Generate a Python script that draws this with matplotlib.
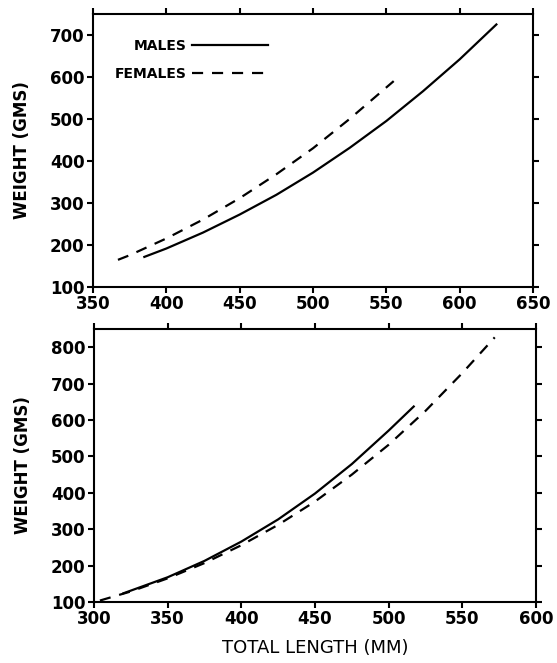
import matplotlib
matplotlib.use("Agg")
import matplotlib.pyplot as plt

# top panel
top_male_len = [385, 400, 425, 450, 475, 500, 525, 550, 575, 600, 625]
top_male_wt = [171, 191, 229, 272, 319, 372, 431, 495, 566, 642, 725]
top_fem_len = [367, 375, 400, 425, 450, 475, 500, 525, 555]
top_fem_wt = [164, 175, 215, 260, 311, 368, 430, 500, 590]

# bottom panel
bot_male_len = [320, 350, 375, 400, 425, 450, 475, 500, 517]
bot_male_wt = [124, 168, 213, 266, 327, 398, 479, 571, 637]
bot_fem_len = [304, 325, 350, 375, 400, 425, 450, 475, 500, 525, 550, 572]
bot_fem_wt = [104, 129, 165, 207, 256, 312, 376, 450, 532, 625, 729, 827]

plt.rcParams['font.family'] = ['DejaVu Sans']

fig = plt.figure(figsize=(5.57, 6.63), dpi=100)
ax1 = fig.add_axes([0.167, 0.5676, 0.790, 0.4113])
ax2 = fig.add_axes([0.1688, 0.092, 0.7935, 0.4118])

ax1.plot(top_male_len, top_male_wt, color='black', lw=1.6, label='MALES')
ax1.plot(top_fem_len, top_fem_wt, color='black', lw=1.6, ls=(0, (5, 4)), label='FEMALES')
ax2.plot(bot_male_len, bot_male_wt, color='black', lw=1.6)
ax2.plot(bot_fem_len, bot_fem_wt, color='black', lw=1.6, ls=(0, (5, 4)))

ax1.set_xlim(350, 650)
ax1.set_ylim(100, 750)
ax1.set_xticks(range(350, 651, 50))
ax1.set_yticks(range(100, 701, 100))
ax2.set_xlim(300, 600)
ax2.set_ylim(100, 850)
ax2.set_xticks(range(300, 601, 50))
ax2.set_yticks(range(100, 801, 100))

for ax in (ax1, ax2):
    for s in ax.spines.values():
        s.set_linewidth(1.5)
    ax.tick_params(direction='out', length=4, width=1.5, pad=2,
                   top=True, right=True, labelsize=12)
    for lab in ax.get_xticklabels() + ax.get_yticklabels():
        lab.set_fontweight('bold')
    ax.set_ylabel('WEIGHT (GMS)', fontsize=12, fontweight='bold', labelpad=14)

ax2.set_xlabel('TOTAL LENGTH (MM)', fontsize=13, labelpad=8)

ax1.legend(loc='upper left', bbox_to_anchor=(0.02, 0.955), frameon=False,
           markerfirst=False, handlelength=5.5, handletextpad=0.4,
           labelspacing=1.0, prop={'size': 10, 'weight': 'bold'})

fig.savefig('out.png', dpi=100)
